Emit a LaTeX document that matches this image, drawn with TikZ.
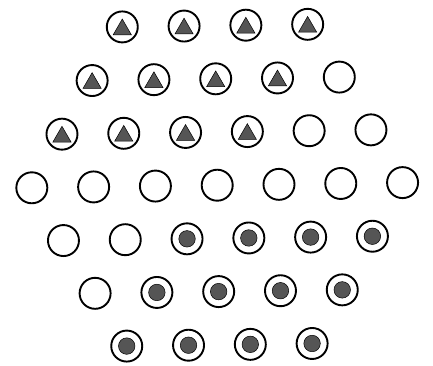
\documentclass[tikz,border=0pt]{standalone}
\usetikzlibrary{shapes.geometric}
\definecolor{markgray}{RGB}{85,85,85}
\begin{document}
\begin{tikzpicture}[x=1pt,y=1pt,
  ring/.style={circle,draw=black,line width=1.9pt,minimum size=31pt,inner sep=0pt},
  tri/.style={regular polygon,regular polygon sides=3,fill=markgray,draw=black,line width=0.5pt,minimum size=21pt,inner sep=0pt,yshift=-2.6pt},
  dot/.style={circle,fill=markgray,draw=black,line width=0.5pt,minimum size=16.5pt,inner sep=0pt}]
\useasboundingbox (0,0) rectangle (433,365);
\begin{scope}[rotate around={0.8:(217.2,179.8)}]
\foreach \r/\k/\types in {1/-3/{1,1,1,1},2/-2/{1,1,1,1,0},3/-1/{1,1,1,1,0,0},4/0/{0,0,0,0,0,0,0},5/1/{0,0,2,2,2,2},6/2/{0,2,2,2,2},7/3/{2,2,2,2}}{
  \foreach \t [count=\i from 0] in \types {
    \pgfmathsetmacro{\n}{7-abs(\k)}
    \pgfmathsetmacro{\x}{217.2+(\i-(\n-1)/2)*61.8}
    \pgfmathsetmacro{\y}{179.8-\k*53.2}
    \node[ring] (c\r-\i) at (\x,\y) {};
    \ifnum\t=1 \node[tri] (t\r-\i) at (c\r-\i) {};\fi
    \ifnum\t=2 \node[dot] (d\r-\i) at (c\r-\i) {};\fi
  }
}
\end{scope}
\end{tikzpicture}
\end{document}
